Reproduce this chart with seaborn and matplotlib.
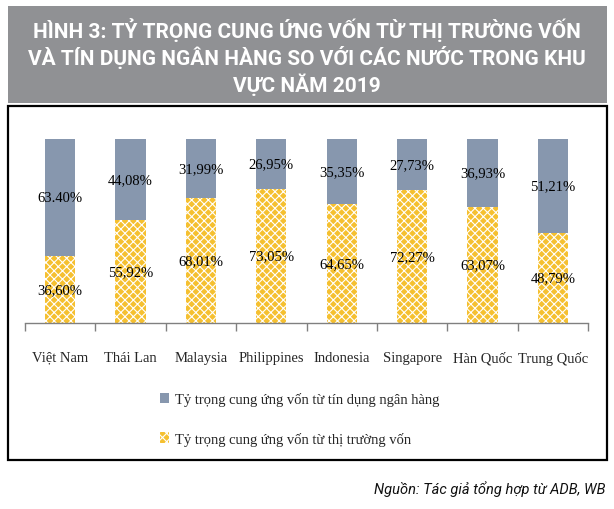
import matplotlib
matplotlib.use("Agg")
import matplotlib.pyplot as plt
from matplotlib.patches import Rectangle, Patch
import seaborn as sns
import pandas as pd

# ===============================
# Data
# ===============================
countries = ["Việt Nam", "Thái Lan", "Malaysia", "Philippines",
             "Indonesia", "Singapore", "Hàn Quốc", "Trung Quốc"]
bank_credit = [63.40, 44.08, 31.99, 26.95, 35.35, 27.73, 36.93, 51.21]
capital_market = [36.60, 55.92, 68.01, 73.05, 64.65, 72.27, 63.07, 48.79]
bank_labels = ["63.40%", "44,08%", "31,99%", "26,95%", "35,35%", "27,73%", "36,93%", "51,21%"]
market_labels = ["36,60%", "55,92%", "68,01%", "73,05%", "64,65%", "72,27%", "63,07%", "48,79%"]

legend_bank = "Tỷ trọng cung ứng vốn từ tín dụng ngân hàng"
legend_market = "Tỷ trọng cung ứng vốn từ thị trường vốn"
title = "HÌNH 3: TỶ TRỌNG CUNG ỨNG VỐN TỪ THỊ TRƯỜNG VỐN\nVÀ TÍN DỤNG NGÂN HÀNG SO VỚI CÁC NƯỚC TRONG KHU\nVỰC NĂM 2019"
source = "Nguồn: Tác giả tổng hợp từ ADB, WB"

df = pd.DataFrame({
    "country": countries,
    "bank": bank_credit,
    "market": capital_market,
})
df["total"] = df["bank"] + df["market"]

# ===============================
# Style
# ===============================
sns.set_theme(style="white")
plt.rcParams["font.family"] = ["Liberation Serif", "DejaVu Serif"]
plt.rcParams["hatch.linewidth"] = 0.8

GRAY_BLUE = "#8797ae"
YELLOW = "#f5c030"
W, H = 614, 510

fig = plt.figure(figsize=(W / 100, H / 100), dpi=100)

def fx(px):
    return px / W

def fy(py):
    return 1 - py / H

# title banner
fig.patches.append(Rectangle((fx(8), fy(104)), fx(599), 97 / H,
                             transform=fig.transFigure, facecolor="#909194",
                             edgecolor="none", zorder=0))
fig.text(0.5, fy(57), title, ha="center", va="center", color="white",
         fontsize=15, fontweight="bold", linespacing=1.22,
         family=["Roboto", "DejaVu Sans"])

# chart frame
fig.patches.append(Rectangle((fx(8), fy(461)), fx(599), 354 / H,
                             transform=fig.transFigure, facecolor="none",
                             edgecolor="black", linewidth=1.6, zorder=0))

ax = fig.add_axes([fx(25), fy(324), fx(563), 184 / H])

# stacked bars: total (bank on top) then capital market bottom
sns.barplot(data=df, x="country", y="total", color=GRAY_BLUE, width=0.43,
            saturation=1, ax=ax)
sns.barplot(data=df, x="country", y="market", color=YELLOW, width=0.43,
            saturation=1, ax=ax)

for p in ax.containers[1]:
    p.set_hatch("xxxx")
    p.set_edgecolor("white")
    p.set_linewidth(0)
for p in ax.containers[0]:
    p.set_edgecolor("none")

for i in range(len(countries)):
    ax.text(i, capital_market[i] / 2, market_labels[i], ha="center",
            va="center", fontsize=10.5, color="black")
    ax.text(i, capital_market[i] + bank_credit[i] / 2, bank_labels[i],
            ha="center", va="center", fontsize=10.5, color="black")

ax.set_xlim(-0.5, len(countries) - 0.5)
ax.set_ylim(0, 100)
ax.set_xlabel("")
ax.set_ylabel("")
ax.set_yticks([])
ax.set_xticks(range(len(countries)))
ax.set_xticklabels(countries, fontsize=10.5)
ax.set_xticks([i - 0.5 for i in range(len(countries) + 1)], minor=True)
ax.tick_params(axis="x", which="major", length=0, pad=20)
ax.tick_params(axis="x", which="minor", length=6, color="#808080",
               width=1, direction="out", bottom=True)
for s in ["top", "left", "right"]:
    ax.spines[s].set_visible(False)
ax.spines["bottom"].set_color("#808080")
ax.spines["bottom"].set_linewidth(1)
ax.patch.set_alpha(0)

handles = [Patch(facecolor=GRAY_BLUE, edgecolor="none", label=legend_bank),
           Patch(facecolor=YELLOW, edgecolor="white", hatch="xxxx",
                 linewidth=0, label=legend_market)]
fig.legend(handles=handles, loc="upper left",
           bbox_to_anchor=(fx(160), fy(393)), frameon=False,
           fontsize=10.5, handlelength=0.6, handleheight=0.7,
           handletextpad=0.4, labelspacing=1.75, borderpad=0,
           borderaxespad=0)

fig.text(fx(606), fy(489), source, ha="right", va="center", fontsize=10.5,
         style="italic", color="#111111",
         family=["Roboto", "DejaVu Sans"])

fig.savefig("out.png", dpi=100)
